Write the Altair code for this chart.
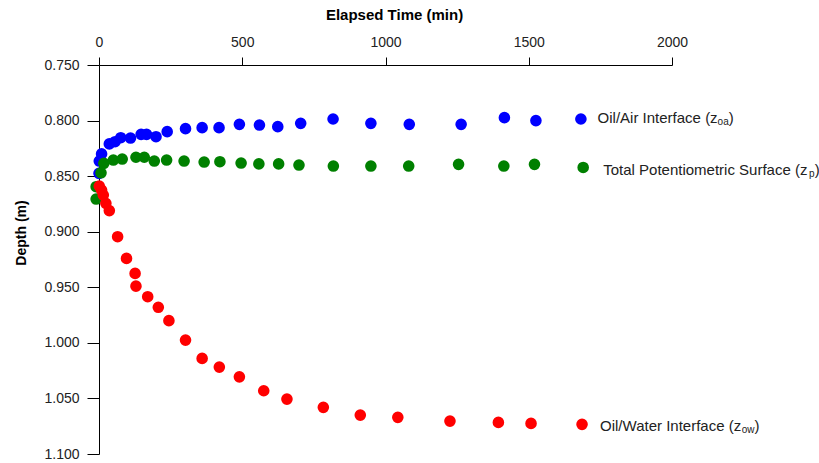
import altair as alt
import pandas as pd

# ---- data ----
blue_t = [0, 1, 9, 36, 56, 76, 110, 147, 166, 199, 238, 302, 360, 419, 490, 560, 624, 704, 817, 949, 1083, 1264, 1415, 1525]
blue_d = [0.8475, 0.8364, 0.830, 0.821, 0.819, 0.8154, 0.8157, 0.8124, 0.8124, 0.8145, 0.810, 0.8073, 0.8064, 0.8064,
          0.8034, 0.804, 0.8055, 0.8025, 0.7986, 0.8025, 0.8034, 0.8034, 0.7974, 0.800]

green_t = [-10, -10, 7, 17, 50, 81, 129, 158, 193, 236, 297, 367, 422, 496, 558, 627, 698, 818, 949, 1081, 1255, 1413, 1520]
green_d = [0.8595, 0.8706, 0.847, 0.8385, 0.8355, 0.8346, 0.833, 0.833, 0.8364, 0.8355, 0.8364, 0.8373, 0.837,
           0.8382, 0.839, 0.839, 0.840, 0.8409, 0.8409, 0.8409, 0.8394, 0.8409, 0.8394]

red_t = [1, 9, 15, 24, 36, 65, 96, 126, 129, 170, 207, 244, 302, 360, 420, 490, 575, 656, 783, 912, 1043, 1225, 1394, 1508]
red_d = [0.859, 0.8625, 0.867, 0.8745, 0.881, 0.9045, 0.924, 0.9375, 0.949, 0.9585, 0.968, 0.980, 0.9975, 1.014,
         1.0218, 1.0306, 1.0431, 1.0506, 1.058, 1.065, 1.067, 1.0704, 1.0716, 1.0725]

series_names = ["Oil/Air Interface", "Total Potentiometric Surface", "Oil/Water Interface"]
series_colors = ["#0000FF", "#008000", "#FF0000"]

legend_main = ["Oil/Air Interface (z", "Total Potentiometric Surface (z", "Oil/Water Interface (z"]
legend_sub = ["oa", "p", "ow"]
legend_t = [1682, 1690, 1686]
legend_d = [0.7986, 0.8422, 1.0733]

x_ticks = [0, 500, 1000, 1500, 2000]
y_ticks = [0.75, 0.80, 0.85, 0.90, 0.95, 1.00, 1.05, 1.10]

FONT = "Liberation Sans"

frames = []
for k, (ts, ds) in enumerate([(blue_t, blue_d), (green_t, green_d), (red_t, red_d)]):
    frames.append(pd.DataFrame({"t": ts, "d": ds, "series": series_names[k], "k": k}))
df = pd.concat(frames, ignore_index=True)

xscale = alt.Scale(domain=[0, 2000], nice=False, zero=False)
yscale = alt.Scale(domain=[0.75, 1.10], reverse=True, nice=False, zero=False)
cscale = alt.Scale(domain=series_names, range=series_colors)

points = alt.Chart(df).mark_circle(size=135, opacity=1).encode(
    x=alt.X("t:Q", scale=xscale, axis=alt.Axis(
        orient="top", values=x_ticks, format="d", title="Elapsed Time (min)",
        tickSize=8, labelPadding=8, labelFlush=False, labelOverlap=False,
        titleX=295, titleY=-51, titleAlign="center", titleBaseline="middle", titleFontSize=15)),
    y=alt.Y("d:Q", scale=yscale, axis=alt.Axis(
        values=y_ticks, format=".3f", title="Depth (m)",
        tickSize=12, labelPadding=8, labelFlush=False, labelOverlap=False,
        titleX=-78, titleY=167.5, titleAngle=270, titleAlign="center", titleBaseline="middle", titleFontSize=14)),
    color=alt.Color("series:N", scale=cscale, legend=None),
    order=alt.Order("k:Q"),
)

# legend-like annotations
leg_df = pd.DataFrame({"t": legend_t, "d": legend_d, "series": series_names,
                       "main": legend_main, "sub": legend_sub})

layers = [points]
leg_markers = alt.Chart(leg_df).mark_circle(size=135, opacity=1).encode(
    x=alt.X("t:Q", scale=xscale), y=alt.Y("d:Q", scale=yscale),
    color=alt.Color("series:N", scale=cscale, legend=None))
layers.append(leg_markers)

# per-entry offsets (pixels): text start, subscript start, closing paren, vertical shift
offsets = [
    (16.7, 136.7, 147.8, -1),
    (20.0, 225.9, 231.5, 3),
    (18.0, 159.7, 172.5, 1.5),
]
for i in range(3):
    sub_df = leg_df.iloc[[i]]
    tx, sx, px, dy = offsets[i]
    base = alt.Chart(sub_df).encode(x=alt.X("t:Q", scale=xscale), y=alt.Y("d:Q", scale=yscale))
    layers.append(base.mark_text(align="left", baseline="middle", dx=tx, dy=dy, font=FONT, fontSize=15,
                                 color="#222222").encode(text="main:N"))
    layers.append(base.mark_text(align="left", baseline="middle", dx=sx, dy=dy + 4, font=FONT, fontSize=10,
                                 color="#222222").encode(text="sub:N"))
    layers.append(base.mark_text(align="left", baseline="middle", dx=px, dy=dy, font=FONT, fontSize=15,
                                 color="#222222").encode(text=alt.value(")")))

chart = alt.layer(*layers).properties(
    width=573, height=389,
    autosize=alt.AutoSizeParams(type="none"),
    padding={"left": 99, "top": 65, "right": 147, "bottom": 9},
    background="white",
).configure_view(stroke=None).configure_axis(
    grid=False, domainColor="black", tickColor="black", labelColor="#222222",
    labelFont=FONT, labelFontSize=14, titleFont=FONT, titleFontWeight="bold",
    titleColor="black", domainWidth=1, tickWidth=1,
)

chart.save("out.html", embed_options={"renderer": "svg", "actions": False})
